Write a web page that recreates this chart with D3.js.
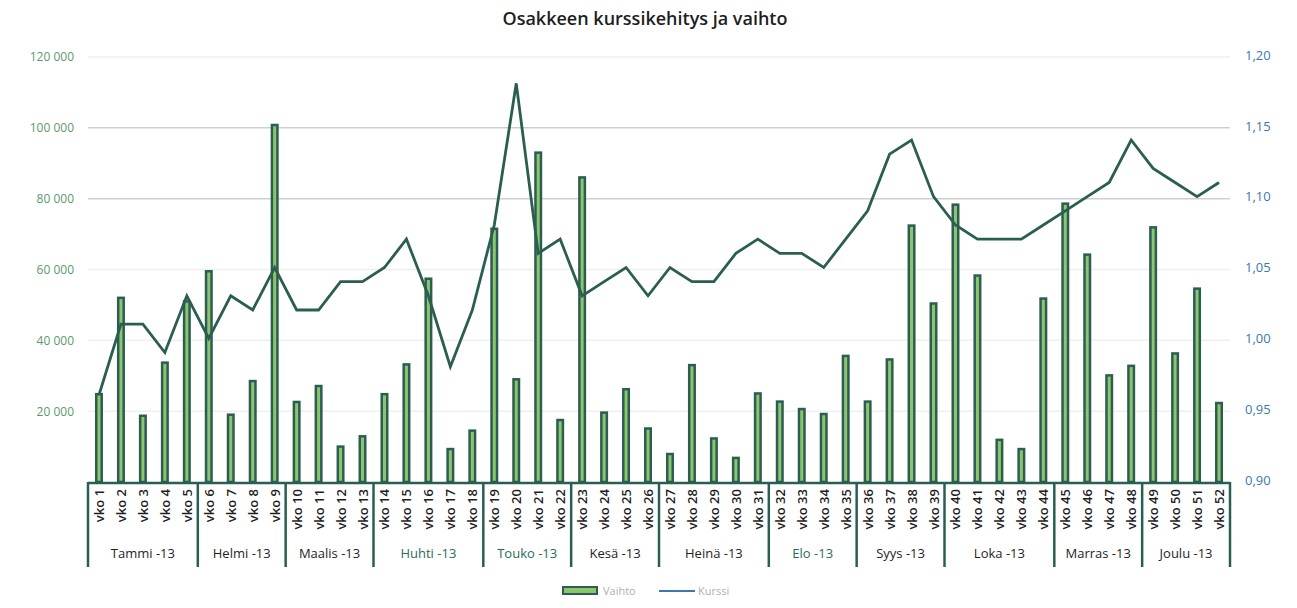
<!DOCTYPE html>
<html>
<head>
<meta charset="utf-8">
<script src="https://cdn.jsdelivr.net/npm/d3@7"></script>
<style>
  body { margin: 0; background: #fff; }
  text { font-family: "Open Sans", "Noto Sans", sans-serif; }
</style>
</head>
<body>
<div id="chart-area"></div>
<script>
// data
var weeks = d3.range(1, 53).map(function(i) { return "vko " + i; });

var vaihto = [24800, 52000, 18700, 33700, 51000, 59500, 19000, 28500, 100800, 22600,
              27100, 10000, 12900, 24800, 33200, 57400, 9300, 14500, 71500, 29000,
              93000, 17500, 86000, 19600, 26200, 15100, 7900, 33000, 12300, 6800,
              25000, 22700, 20600, 19200, 35600, 22700, 34600, 72400, 50400, 78300,
              58300, 11900, 9300, 51800, 78600, 64200, 30100, 32800, 71900, 36300,
              54600, 22300];

var kurssi = [0.96, 1.01, 1.01, 0.99, 1.03, 1.00, 1.03, 1.02, 1.05, 1.02,
              1.02, 1.04, 1.04, 1.05, 1.07, 1.03, 0.98, 1.02, 1.08, 1.18,
              1.06, 1.07, 1.03, 1.04, 1.05, 1.03, 1.05, 1.04, 1.04, 1.06,
              1.07, 1.06, 1.06, 1.05, 1.07, 1.09, 1.13, 1.14, 1.10, 1.08,
              1.07, 1.07, 1.07, 1.08, 1.09, 1.10, 1.11, 1.14, 1.12, 1.11,
              1.10, 1.11];

var months = ["Tammi -13", "Helmi -13", "Maalis -13", "Huhti -13", "Touko -13", "Kesä -13",
              "Heinä -13", "Elo -13", "Syys -13", "Loka -13", "Marras -13", "Joulu -13"];
var monthWeeks = [5, 4, 4, 5, 4, 4, 5, 4, 4, 5, 4, 4];

var leftTicks = [20000, 40000, 60000, 80000, 100000, 120000];
var rightTicks = [0.90, 0.95, 1.00, 1.05, 1.10, 1.15, 1.20];

var W = 1297, H = 608;
var dark = "#2b5e52";

var svg = d3.select("#chart-area")
  .append("svg")
    .attr("width", W)
    .attr("height", H);

// title
svg.append("text")
  .attr("x", 645)
  .attr("y", 25)
  .attr("text-anchor", "middle")
  .attr("font-size", 18)
  .attr("font-weight", 600)
  .attr("fill", "#1e1e1e")
  .text("Osakkeen kurssikehitys ja vaihto");

// scales
var x = d3.scaleBand()
  .domain(weeks)
  .range([88, 1230]);

var y = d3.scaleLinear()
  .domain([0, 120000])
  .range([482, 57]);

var y2 = d3.scaleLinear()
  .domain([0.90, 1.20])
  .range([480, 55]);

// gridlines
svg.append("g")
  .selectAll("line")
  .data(leftTicks)
  .enter()
  .append("line")
    .attr("x1", 88)
    .attr("x2", 1230)
    .attr("y1", function(d) { return y(d); })
    .attr("y2", function(d) { return y(d); })
    .attr("stroke", function(d) { return d >= 80000 && d < 120000 ? "#cdd0cd" : "#eef0ee"; })
    .attr("stroke-width", 1.5);

// left axis labels
var fmt = function(d) { return d3.format(",")(d).replace(",", " "); };
var leftAxis = d3.axisLeft(y).tickValues(leftTicks).tickSize(0).tickPadding(0).tickFormat(fmt);
svg.append("g")
  .attr("transform", "translate(74, 0)")
  .call(leftAxis)
  .call(function(g) { g.select(".domain").remove(); })
  .selectAll("text")
    .attr("font-size", 12)
    .attr("fill", "#5a9a6a");

// right axis labels
var rightAxis = d3.axisRight(y2).tickValues(rightTicks).tickSize(0).tickPadding(0)
  .tickFormat(function(d) { return d3.format(".2f")(d).replace(".", ","); });
svg.append("g")
  .attr("transform", "translate(1245, 0)")
  .call(rightAxis)
  .call(function(g) { g.select(".domain").remove(); })
  .selectAll("text")
    .attr("font-size", 13)
    .attr("fill", "#3a78b0");

// bars
var bw = 5.5;
svg.append("g")
  .selectAll("rect")
  .data(vaihto)
  .enter()
  .append("rect")
    .attr("x", function(d, i) { return x(weeks[i]) + x.bandwidth() / 2 - bw / 2; })
    .attr("y", function(d) { return y(d); })
    .attr("width", bw)
    .attr("height", function(d) { return 482 - y(d); })
    .attr("fill", "#8fc46e")
    .attr("stroke", dark)
    .attr("stroke-width", 2.5);

// line
var line = d3.line()
  .x(function(d, i) { return x(weeks[i]) + x.bandwidth() / 2; })
  .y(function(d) { return y2(d); });

svg.append("path")
  .datum(kurssi)
  .attr("d", line)
  .attr("fill", "none")
  .attr("stroke", dark)
  .attr("stroke-width", 2.8)
  .attr("stroke-linejoin", "miter");

// category axis
var cat = svg.append("g");
cat.append("line")
  .attr("x1", 88).attr("x2", 1230)
  .attr("y1", 483).attr("y2", 483)
  .attr("stroke", dark).attr("stroke-width", 2.5);

cat.selectAll(".wk")
  .data(weeks)
  .enter()
  .append("text")
    .attr("class", "wk")
    .attr("transform", function(d) {
      return "translate(" + (x(d) + x.bandwidth() / 2 + 5) + ", 489) rotate(-90)";
    })
    .attr("text-anchor", "end")
    .attr("font-size", 13)
    .attr("font-weight", 600)
    .attr("fill", "#1e1e1e")
    .text(function(d) { return d; });

var bounds = [0];
monthWeeks.forEach(function(n, i) { bounds.push(bounds[i] + n); });

function edge(k) { return k < weeks.length ? x(weeks[k]) : x.range()[1]; }

cat.selectAll(".sep")
  .data(bounds)
  .enter()
  .append("line")
    .attr("class", "sep")
    .attr("x1", function(k) { return edge(k); })
    .attr("x2", function(k) { return edge(k); })
    .attr("y1", 482)
    .attr("y2", 567)
    .attr("stroke", dark)
    .attr("stroke-width", 2.5);

cat.selectAll(".mo")
  .data(months)
  .enter()
  .append("text")
    .attr("class", "mo")
    .attr("x", function(d, i) { return (edge(bounds[i]) + edge(bounds[i + 1])) / 2; })
    .attr("y", 558)
    .attr("text-anchor", "middle")
    .attr("font-size", 13)
    .attr("fill", function(d, i) { return (i === 3 || i === 4 || i === 7) ? "#2b6a5e" : "#1e1e1e"; })
    .text(function(d) { return d; });

// legend
var lg = svg.append("g").attr("transform", "translate(563, 591)");
lg.append("rect")
  .attr("x", 0).attr("y", -4).attr("width", 34).attr("height", 7)
  .attr("fill", "#8fc46e").attr("stroke", dark).attr("stroke-width", 2);
lg.append("text")
  .attr("x", 40).attr("y", 4)
  .attr("font-size", 11).attr("fill", "#b0b0b0")
  .text("Vaihto");
lg.append("line")
  .attr("x1", 96).attr("x2", 132).attr("y1", 0).attr("y2", 0)
  .attr("stroke", "#3a78b0").attr("stroke-width", 2);
lg.append("text")
  .attr("x", 135).attr("y", 4)
  .attr("font-size", 11).attr("fill", "#b0b0b0")
  .text("Kurssi");
</script>
</body>
</html>
